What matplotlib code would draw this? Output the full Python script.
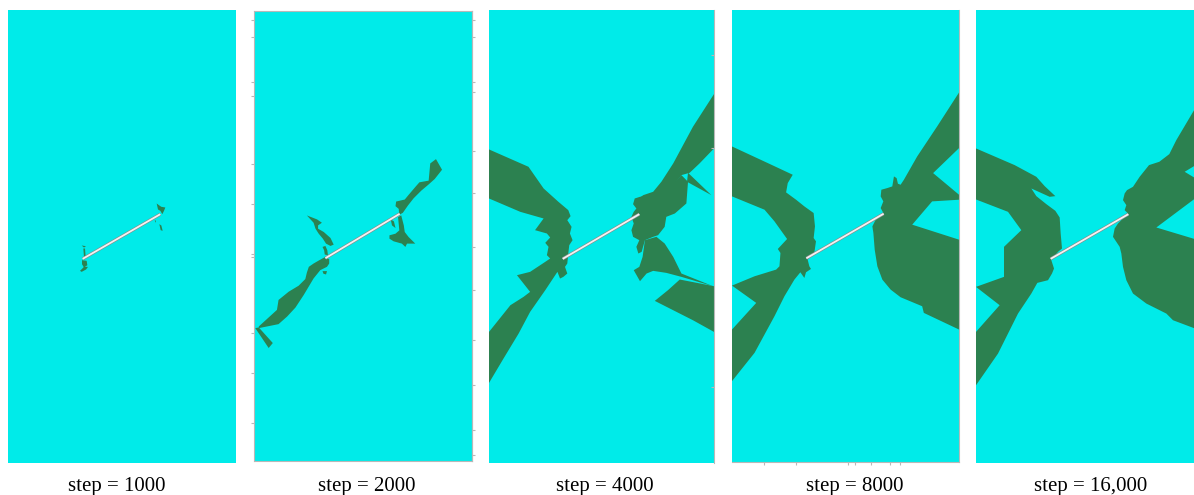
import matplotlib
matplotlib.use('Agg')
import matplotlib.pyplot as plt

# Plate in model units: x to the right, y down from the top edge
W, H = 684, 1358

steps = ['step = 1000', 'step = 2000', 'step = 4000', 'step = 8000', 'step = 16,000']

# Pre-existing inclined flaw (same in every step)
crack_x = [224, 457]
crack_y = [746, 612]

# Damaged zones, one outline per region
zones_1000 = [
    [(221, 706), (234, 708), (228, 712)],
    [(226, 715), (231, 715), (233, 740), (228, 741)],
    [(222, 750), (236, 752), (238, 765), (228, 772), (222, 762)],
    [(216, 782), (228, 770), (240, 770), (234, 778), (221, 785)],
    [(446, 580), (454, 586), (460, 590), (472, 592), (468, 602), (463, 612), (457, 602), (450, 598)],
    [(454, 642), (460, 646), (464, 662), (458, 660)],
    [(440, 630), (444, 632), (443, 638)],
]

zones_2000 = [
    [(236, 749), (222, 743), (205, 752), (187, 762), (172, 772), (166, 789), (161, 809), (140, 829),
     (109, 847), (77, 872), (72, 902), (15, 952), (15, 957), (77, 945), (104, 922), (130, 895),
     (156, 857), (187, 807), (208, 782), (229, 772), (236, 762)],
    [(4, 957), (15, 955), (59, 1002), (46, 1017)],
    [(166, 617), (198, 629), (213, 639), (201, 647), (201, 657), (219, 667), (240, 685), (250, 705),
     (240, 709), (226, 702), (216, 687), (203, 672), (193, 657), (187, 639)],
    [(215, 712), (224, 709), (230, 722), (232, 737), (222, 735), (220, 722)],
    [(215, 785), (229, 785), (226, 795), (218, 793)],
    [(446, 575), (473, 569), (485, 555), (508, 529), (519, 517), (548, 512), (553, 460), (571, 447),
     (590, 479), (567, 507), (546, 525), (525, 542), (501, 565), (483, 587), (467, 609), (456, 615),
     (454, 597), (444, 589)],
    [(452, 622), (462, 617), (470, 647), (473, 667), (485, 682), (506, 702), (480, 702), (475, 712),
     (464, 702), (438, 695), (425, 687), (425, 677), (444, 672), (456, 662), (454, 642)],
    [(429, 629), (439, 635), (444, 655), (433, 647)],
]

zones_4000 = [
    [(0, 418), (120, 470), (166, 535), (211, 575), (241, 600), (248, 618), (238, 630), (251, 650),
     (246, 670), (254, 690), (244, 705), (241, 730), (238, 760), (231, 770), (238, 790), (226, 800),
     (216, 805), (208, 785), (171, 840), (125, 905), (90, 970), (44, 1045), (0, 1118), (0, 965),
     (65, 885), (105, 860), (125, 845), (85, 795), (125, 785), (171, 755), (186, 745), (176, 735),
     (181, 710), (171, 698), (186, 682), (176, 670), (140, 660), (166, 625), (95, 605), (0, 565)],
    [(448, 570), (469, 555), (499, 545), (524, 515), (560, 460), (620, 350), (684, 252), (684, 415),
     (640, 460), (610, 488), (585, 495), (560, 525), (539, 545), (519, 570)],
    [(605, 488), (676, 555), (602, 515)],
    [(443, 565), (459, 560), (524, 550), (555, 525), (585, 495), (605, 515), (600, 580), (565, 610),
     (539, 620), (534, 650), (514, 675), (499, 680), (474, 690), (464, 725), (454, 730), (448, 710),
     (457, 690), (438, 680), (433, 660), (440, 640), (433, 620), (440, 605), (448, 595), (438, 582)],
    [(474, 690), (509, 680), (534, 700), (560, 740), (585, 790), (681, 828), (585, 800), (539, 788),
     (499, 782), (479, 790), (459, 813), (440, 780), (457, 770), (467, 740)],
    [(504, 872), (544, 840), (580, 808), (684, 828), (684, 965), (620, 930), (570, 905)],
]

zones_8000 = [
    [(0, 410), (108, 460), (183, 495), (168, 520), (163, 548), (193, 570), (218, 590), (246, 610),
     (250, 650), (246, 685), (253, 695), (248, 730), (236, 740), (228, 750), (233, 770), (238, 778),
     (223, 788), (218, 805), (206, 788), (188, 810), (158, 860), (128, 920), (68, 1030), (0, 1115),
     (0, 960), (73, 880), (0, 828), (68, 800), (133, 780), (143, 770), (146, 730), (138, 718),
     (166, 688), (128, 635), (98, 600), (0, 560)],
    [(684, 248), (684, 415), (606, 490), (684, 555), (684, 570), (603, 575), (543, 645), (684, 690),
     (684, 960), (578, 910), (573, 890), (508, 863), (478, 840), (453, 810), (438, 770), (430, 720),
     (426, 670), (423, 650), (433, 630), (448, 620), (456, 610), (448, 595), (456, 575), (448, 560),
     (450, 540), (468, 535), (483, 530), (488, 500), (496, 505), (500, 522), (508, 525), (518, 510),
     (558, 440), (618, 350)],
]

zones_16000 = [
    [(0, 415), (116, 465), (181, 500), (206, 528), (238, 558), (221, 560), (166, 535), (181, 558),
     (211, 582), (238, 602), (251, 622), (254, 670), (258, 715), (246, 725), (234, 740), (226, 750),
     (234, 775), (228, 790), (216, 810), (184, 818), (166, 850), (126, 910), (66, 1030), (0, 1125),
     (0, 965), (71, 885), (0, 830), (84, 800), (84, 710), (136, 660), (96, 605), (0, 568)],
    [(684, 250), (684, 450), (626, 485), (684, 520), (684, 545), (541, 652), (684, 695), (684, 965),
     (591, 930), (571, 910), (511, 880), (471, 850), (451, 810), (441, 770), (436, 730), (431, 710),
     (411, 680), (416, 655), (426, 640), (456, 610), (446, 600), (451, 585), (441, 570), (446, 550),
     (453, 540), (471, 530), (491, 500), (519, 465), (550, 455), (580, 432), (601, 390)],
]

all_zones = [zones_1000, zones_2000, zones_4000, zones_8000, zones_16000]

# stray tick marks left on the exported frames
ticks_2000_left = [27, 78, 213, 258, 462, 582, 732, 741, 972, 1092, 1242]
ticks_2000_right = [27, 78, 213, 243, 423, 549, 711, 843, 993, 1128, 1263, 1341]
ticks_4000_left = [414, 561, 696, 831, 966]
ticks_4000_right = [135, 414, 1131]
ticks_8000_bottom = [95, 194, 350, 371, 419, 476, 506]

# panel boxes in figure pixels: left, top, right, bottom
boxes = [(8, 10, 236, 463), (254, 11, 472, 461), (489, 10, 714, 463),
         (732, 10, 959, 462), (976, 10, 1204, 463)]
label_x = [117, 367, 605, 855, 1091]

cyan = '#00EBE9'
green = '#2C8150'
frame = '#b8b8b8'
FW, FH = 1194, 495

fig = plt.figure(figsize=(FW / 100, FH / 100), dpi=100)

axes = []
for i, (x0, y0, x1, y1) in enumerate(boxes):
    ax = fig.add_axes([x0 / FW, (FH - y1) / FH, (x1 - x0) / FW, (y1 - y0) / FH])
    ax.set_facecolor(cyan)
    for zone in all_zones[i]:
        xs, ys = zip(*zone)
        ax.fill(xs, ys, color=green, lw=0)
    ax.plot(crack_x, crack_y, color='#8a8a8a', lw=2.2, solid_capstyle='butt')
    ax.plot(crack_x, crack_y, color='#f2f2f2', lw=1.3, solid_capstyle='butt')
    ax.set_xlim(0, W)
    ax.set_ylim(H, 0)
    ax.set_xticks([])
    ax.set_yticks([])
    for s in ax.spines.values():
        s.set_visible(False)
        s.set_color(frame)
        s.set_linewidth(0.8)
    ax.tick_params(direction='out', length=2.5, width=0.8, color=frame,
                   labelleft=False, labelbottom=False, labelright=False)
    axes.append(ax)

    fig.text(label_x[i] / FW, 4 / FH, steps[i], ha='center', va='baseline',
             fontsize=15, family='Liberation Serif')

# step 2000: full frame, ticks on both sides
for s in axes[1].spines.values():
    s.set_visible(True)
axes[1].set_yticks(ticks_2000_left)
axes[1].tick_params(axis='y', left=True, right=False)
twin = axes[1].secondary_yaxis('right')
twin.set_yticks(ticks_2000_right)
twin.tick_params(direction='out', length=2.5, width=0.8, color=frame, labelright=False)
twin.spines['right'].set_color(frame)
twin.spines['right'].set_linewidth(0.8)

# step 4000: right edge only
axes[2].spines['right'].set_visible(True)
axes[2].set_yticks(ticks_4000_right)
axes[2].tick_params(axis='y', left=False, right=True, direction='in', length=2.5)

# step 8000: right and bottom edges, ticks along the bottom
axes[3].spines['right'].set_visible(True)
axes[3].spines['bottom'].set_visible(True)
axes[3].set_xticks(ticks_8000_bottom)

fig.savefig('out.png', dpi=100)
